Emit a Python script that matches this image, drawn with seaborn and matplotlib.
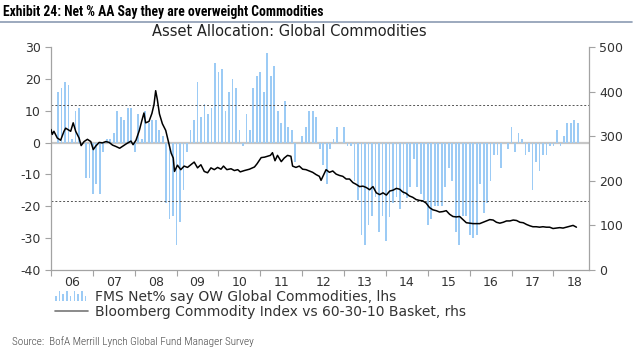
import numpy as np
import pandas as pd
import seaborn as sns
import matplotlib.pyplot as plt
from matplotlib.lines import Line2D
from matplotlib.patches import Rectangle, Patch
from matplotlib.legend_handler import HandlerBase


# FMS net % say overweight commodities, monthly from Mar 2006 (lhs)
fms_start = "2006-03-01"
fms_net = [16, 17, 19, 18, 1, 10, 11, 0, -11, -11,
           -16, -13, -16, -3, 1, 1, 3, 10, 8, 7,
           11, 11, -3, 9, 1, 10, 6, 7, 7, 4,
           2, -19, -24, -23, -32, -25, -15, -3, 4, 7,
           19, 8, 12, 9, 11, 25, 22, 23, 10, 16,
           20, 17, 4, -1, 9, 4, 17, 21, 22, 16,
           28, 21, 24, 10, 6, 13, 5, 4, -6, 0,
           2, 5, 10, 10, 8, -2, -7, -13, -2, 1,
           5, 0, 5, -1, -1, -12, -18, -29, -32, -26,
           -23, -17, -28, -23, -31, -23.5, -19, -17, -21, -16.5,
           -17.5, -14, -5, -14, -16, -18, -26, -24, -20, -20,
           -20, -14, -8, -12, -28, -32, -23, -23, -29, -30,
           -29, -13, -22, -19, -12, -4, -4, -8, 0, -2,
           5, -3, 3, 1, -4, -3, -15, -6, -9, -4,
           -4, -1, -1, 4, -1, 2, 6, 6, 7, 6]

# mean +/- 1 sd bands (lhs)
band_hi = 11.7
band_lo = -18.3

# Bloomberg Commodity Index vs 60-30-10 basket (rhs)
bcom_year = [2006.00, 2006.03, 2006.07, 2006.15, 2006.23, 2006.31, 2006.35, 2006.47, 2006.53, 2006.59,
             2006.67, 2006.72, 2006.79, 2006.87, 2006.95, 2007.01, 2007.07, 2007.15, 2007.23, 2007.31,
             2007.39, 2007.47, 2007.55, 2007.64, 2007.72, 2007.80, 2007.91, 2007.96, 2008.03, 2008.11,
             2008.17, 2008.22, 2008.26, 2008.34, 2008.41, 2008.46, 2008.50, 2008.54, 2008.59, 2008.66,
             2008.74, 2008.81, 2008.87, 2008.92, 2008.95, 2009.02, 2009.10, 2009.18, 2009.26, 2009.34,
             2009.42, 2009.50, 2009.58, 2009.66, 2009.74, 2009.82, 2009.90, 2009.98, 2010.06, 2010.12,
             2010.20, 2010.30, 2010.38, 2010.46, 2010.52, 2010.62, 2010.74, 2010.86, 2010.92, 2011.02,
             2011.10, 2011.17, 2011.24, 2011.29, 2011.35, 2011.41, 2011.50, 2011.57, 2011.65, 2011.73,
             2011.77, 2011.85, 2011.93, 2012.01, 2012.09, 2012.17, 2012.25, 2012.33, 2012.41, 2012.45,
             2012.57, 2012.65, 2012.73, 2012.81, 2012.89, 2012.97, 2013.05, 2013.13, 2013.21, 2013.29,
             2013.37, 2013.45, 2013.53, 2013.61, 2013.69, 2013.77, 2013.85, 2013.93, 2014.01, 2014.09,
             2014.17, 2014.25, 2014.33, 2014.40, 2014.48, 2014.56, 2014.64, 2014.72, 2014.80, 2014.88,
             2014.96, 2015.04, 2015.12, 2015.20, 2015.28, 2015.36, 2015.44, 2015.52, 2015.60, 2015.68,
             2015.76, 2015.84, 2015.92, 2016.00, 2016.08, 2016.16, 2016.24, 2016.32, 2016.40, 2016.48,
             2016.56, 2016.64, 2016.72, 2016.80, 2016.88, 2016.96, 2017.04, 2017.12, 2017.20, 2017.28,
             2017.36, 2017.44, 2017.51, 2017.59, 2017.67, 2017.75, 2017.83, 2017.91, 2017.99, 2018.07,
             2018.15, 2018.23, 2018.31, 2018.39, 2018.47, 2018.55]
bcom_value = [315, 304, 311, 296, 291, 311, 318, 311, 330, 311,
              296, 279, 288, 293, 288, 270, 278, 286, 285, 288,
              286, 280, 277, 273, 278, 283, 289, 281, 291, 313,
              335, 352, 330, 333, 351, 371, 402, 382, 350, 328,
              313, 285, 262, 251, 221, 235, 225, 233, 230, 236,
              242, 229, 236, 221, 218, 229, 225, 230, 226, 233,
              225, 227, 223, 225, 220, 223, 226, 231, 238, 252,
              253, 255, 257, 263, 245, 257, 243, 251, 257, 255,
              233, 230, 233, 226, 225, 222, 219, 214, 210, 201,
              225, 219, 222, 215, 212, 210, 204, 204, 196, 192,
              187, 188, 185, 180, 187, 173, 169, 173, 168, 177,
              179, 183, 181, 175, 172, 166, 163, 158, 156, 155,
              150, 140, 135, 133, 130, 131, 133, 125, 120, 119,
              120, 113, 106, 105, 104, 104, 104, 107, 110, 113,
              112, 107, 105, 107, 110, 110, 112, 111, 107, 106,
              102, 99, 97, 97, 96, 97, 96, 96, 93, 94,
              95, 94, 96, 98, 100, 96]

years = list(range(2006, 2019))
year_labels = [f"{y % 100:02d}" for y in years]

bar_col = "#9ccbf5"
axis_col = "#a3a3a3"
text_col = "#333333"
narrow = ['Roboto Condensed', 'Liberation Sans Narrow', 'DejaVu Sans']

fms = pd.DataFrame({"date": pd.date_range(fms_start, periods=len(fms_net), freq="MS"),
                    "net": fms_net})
fms["x"] = fms.date.dt.year + (fms.date.dt.month - 1) / 12
bcom = pd.DataFrame({"x": bcom_year, "v": bcom_value})

sns.set_style("ticks")
plt.rcParams['font.family'] = ['DejaVu Sans']
plt.rcParams['axes.unicode_minus'] = False

fig = plt.figure(figsize=(6.4, 3.6), dpi=100)
ax = fig.add_axes([51/640, 90/360, 538/640, 223/360])

sns.barplot(data=fms, x="x", y="net", native_scale=True, color=bar_col, saturation=1,
            width=0.5, errorbar=None, linewidth=0, ax=ax)
ax.axhline(0, color="#c6c6c6", lw=1.6, zorder=0.5)
ax.axhline(band_hi, color="#555555", lw=0.7, ls=(0, (2, 2)))
ax.axhline(band_lo, color="#555555", lw=0.7, ls=(0, (2, 2)))

ax.set_xlim(2006, 2018.85)
ax.set_ylim(-40, 30)
ax.set_yticks(range(-40, 31, 10))
ax.set_xticks(years)
ax.set_xticklabels([])
ax.set_xticks([y + 0.5 for y in years], minor=True)
ax.set_xticklabels(year_labels, minor=True)
ax.tick_params(axis="both", which="major", length=4, width=0.8, color=axis_col,
               labelsize=9, labelcolor=text_col)
ax.tick_params(axis="x", which="minor", length=0, pad=4, labelsize=9, labelcolor=text_col)
ax.set_xlabel("")
ax.set_ylabel("")

ax2 = ax.twinx()
sns.lineplot(data=bcom, x="x", y="v", color="black", lw=1.1, ax=ax2)
ax2.set_ylim(0, 500)
ax2.set_yticks(range(0, 501, 100))
ax2.set_ylabel("")
ax2.tick_params(axis="y", length=4, width=0.8, color=axis_col, labelsize=9, labelcolor=text_col)

for a in (ax, ax2):
    a.spines["top"].set_visible(False)
    for s in ("left", "right", "bottom"):
        a.spines[s].set_color(axis_col)
        a.spines[s].set_linewidth(0.9)
ax.spines["right"].set_visible(False)
ax2.spines["left"].set_visible(False)
ax2.spines["bottom"].set_visible(False)


class MiniBars(HandlerBase):
    def create_artists(self, legend, orig_handle, xdescent, ydescent, width, height, fontsize, trans):
        hs = [0.45, 0.9, 0.65, 0.9, 0.45, 0.9, 0.65, 0.9, 0.45]
        step = width / len(hs)
        return [Rectangle((-xdescent + i * step, -ydescent), step * 0.45, h * height * 1.1,
                          facecolor=bar_col, lw=0, transform=trans) for i, h in enumerate(hs)]


bar_handle = Patch(color=bar_col)
line_handle = Line2D([], [], color="#777777", lw=1.2)
fig.legend([bar_handle, line_handle],
           ["FMS Net% say OW Global Commodities, lhs",
            "Bloomberg Commodity Index vs 60-30-10 Basket, rhs"],
           handler_map={bar_handle: MiniBars()},
           loc="upper left", bbox_to_anchor=(55/640, 1 - 290/360), frameon=False,
           fontsize=10, borderpad=0, borderaxespad=0, handlelength=2.4,
           handletextpad=0.45, labelspacing=0.05, labelcolor=text_col)

fig.text(3/640, 1 - 12/360, "Exhibit 24: Net % AA Say they are overweight Commodities",
         family=narrow, weight="bold", size=9.8, va="center", color="black")
fig.add_artist(Line2D([0, 632/640], [1 - 22/360, 1 - 22/360], color="#8b9bb3", lw=1.2))
fig.text(289/640, 1 - 31/360, "Asset Allocation: Global Commodities", ha="center", va="center",
         size=10.5, color="#222222")
fig.text(12/640, 1 - 342/360, "Source:  BofA Merrill Lynch Global Fund Manager Survey",
         family=narrow, weight="light", size=8, va="center", color="#444444")

fig.savefig("out.png", dpi=100)
